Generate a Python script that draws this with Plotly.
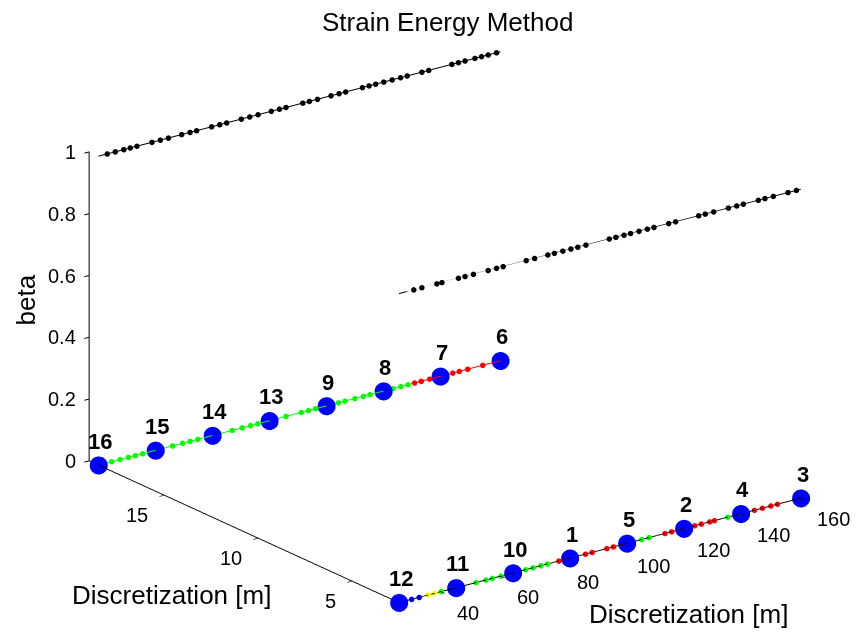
import numpy as np
import plotly.graph_objects as go

# ---------------- data ----------------
node_x = [26, 45, 64, 83, 102, 121, 140, 160]
front_labels = ["12", "11", "10", "1", "5", "2", "4", "3"]
back_labels = ["16", "15", "14", "13", "9", "8", "7", "6"]
front_y = 2.5
back_y = 18.5
front_beta = [0, 0, 0, 0, 0, 0, 0, 0]
back_beta = [0, 0, 0, 0, 0, 0, 0, 0]
top_beta = 1.0

# coloured pieces of the beta=0 lines
front_piece_start = [26, 33.8, 39.4, 77.7, 102, 112.4, 133.4, 140]
front_piece_end = [33.8, 39.4, 77.7, 102, 112.4, 133.4, 140, 160]
front_piece_color = ["#0000FF", "#FFFF00", "#00FF00", "#FF0000", "#00FF00", "#FF0000", "#00FF00", "#FF0000"]
back_piece_start = [26, 130.3]
back_piece_end = [130.3, 160]
back_piece_color = ["#00FF00", "#FF0000"]

# small element nodes on the beta=0 lines
front_dot_x = [30.2, 32.7, 35.7, 37.9, 40.1, 51.7, 55.0, 57.2, 60.0, 68.3, 70.7, 73.3, 75.5,
               79.3, 88.2, 90.4, 95.3, 97.5, 106.9, 109.4, 114.7, 116.9, 124.6, 126.8, 129.6,
               131.2, 135.6, 144.5, 147.2, 150.0, 152.2]
front_dot_color = ["#0000FF"] * 2 + ["#FFFF00"] * 2 + ["#00FF00"] * 9 + ["#FF0000"] * 5 + \
                  ["#00FF00"] * 2 + ["#FF0000"] * 6 + ["#00FF00"] * 1 + ["#FF0000"] * 4
back_dot_x = [30.4, 33.2, 36.0, 38.3, 40.7, 50.7, 54.0, 56.5, 59.1, 70.6, 73.9, 76.7, 79.1,
              88.5, 93.6, 96.0, 98.4, 106.0, 108.2, 111.5, 114.3, 116.5, 124.2, 126.8, 129.2,
              131.4, 133.6, 136.4, 144.1, 146.3, 149.1, 154.1]
back_dot_color = ["#00FF00"] * 25 + ["#FF0000"] * 7

# small element nodes on the beta=1 lines
top_back_dot_x = [28.9, 31.6, 34.4, 36.6, 38.8, 43.8, 46.6, 49.3, 53.7, 56.5, 58.7, 63.7, 66.4,
                  68.7, 73.6, 76.4, 79.2, 83.6, 86.3, 88.5, 94.1, 96.3, 99.0, 103.5, 106.2,
                  108.4, 114.0, 116.2, 118.4, 121.1, 123.9, 126.7, 128.9, 133.8, 136.1, 143.8,
                  146.0, 148.2, 151.5, 153.7, 155.9, 158.7]
top_front_dot_x = [30.9, 33.6, 38.6, 40.3, 45.8, 48.0, 50.8, 55.7, 58.5, 60.7, 68.4, 71.2, 75.6,
                   77.8, 80.6, 83.3, 85.6, 88.3, 96.1, 98.3, 101.0, 103.2, 106.0, 108.8, 111.0,
                   115.9, 118.2, 125.9, 128.1, 130.9, 135.8, 138.6, 140.8, 145.8, 148.0, 150.8,
                   155.7, 158.5]

x_ticks = [40, 60, 80, 100, 120, 140, 160]
y_ticks = [5, 10, 15]
z_ticks = [0, 0.2, 0.4, 0.6, 0.8, 1]
x_range = [26, 160]
y_range = [2.5, 19]
z_range = [0, 1]

FONT = "Liberation Sans, Arial, sans-serif"

fig = go.Figure()

# beta = 1 lines
for yy, dots in [(back_y, top_back_dot_x), (front_y, top_front_dot_x)]:
    fig.add_trace(go.Scatter3d(x=[node_x[0], node_x[-1]], y=[yy, yy], z=[top_beta, top_beta],
                               mode="lines", line=dict(color="black", width=2),
                               showlegend=False, hoverinfo="skip"))
    fig.add_trace(go.Scatter3d(x=dots, y=[yy] * len(dots), z=[top_beta] * len(dots),
                               mode="markers", marker=dict(color="black", size=3.2, line=dict(width=0)),
                               showlegend=False, hoverinfo="skip"))

# coloured beta = 0 lines
for yy, starts, ends, cols in [(front_y, front_piece_start, front_piece_end, front_piece_color),
                               (back_y, back_piece_start, back_piece_end, back_piece_color)]:
    for s, e, c in zip(starts, ends, cols):
        fig.add_trace(go.Scatter3d(x=[s, e], y=[yy, yy], z=[0, 0], mode="lines",
                                   line=dict(color=c, width=2), showlegend=False, hoverinfo="skip"))
for yy, dx, dc in [(front_y, front_dot_x, front_dot_color), (back_y, back_dot_x, back_dot_color)]:
    fig.add_trace(go.Scatter3d(x=dx, y=[yy] * len(dx), z=[0] * len(dx), mode="markers",
                               marker=dict(color=dc, size=3.2, line=dict(width=0)),
                               showlegend=False, hoverinfo="skip"))

# main nodes
for yy, beta in [(front_y, front_beta), (back_y, back_beta)]:
    fig.add_trace(go.Scatter3d(x=node_x, y=[yy] * len(node_x), z=beta, mode="markers",
                               marker=dict(color="#0000FF", size=10.5, line=dict(width=0)),
                               showlegend=False, hoverinfo="skip"))

LABEL_FONT = dict(size=22, color="black", family=FONT)
TICK_FONT = dict(size=20, color="black", family=FONT)
TITLE_FONT = dict(size=26, color="black", family=FONT)

annotations = []
for labels, yy, beta in [(front_labels, front_y, front_beta), (back_labels, back_y, back_beta)]:
    for lab, xx, bb in zip(labels, node_x, beta):
        annotations.append(dict(x=xx, y=yy, z=bb, text="<b>%s</b>" % lab, showarrow=False,
                                yshift=24, xshift=2, font=LABEL_FONT))
# tick labels (drawn flat, as in the original)
for t in z_ticks:
    annotations.append(dict(x=x_range[0], y=y_range[1], z=t, text="%g" % t, showarrow=False,
                            xanchor="right", xshift=-11, yshift=0, font=TICK_FONT))
for t in y_ticks:
    annotations.append(dict(x=x_range[0], y=t, z=0, text="%g" % t, showarrow=False,
                            xanchor="right", xshift=-14, yshift=-20, font=TICK_FONT))
for t in x_ticks:
    annotations.append(dict(x=t, y=y_range[0], z=0, text="%g" % t, showarrow=False,
                            xanchor="left", xshift=14, yshift=-21, font=TICK_FONT))
# axis titles
annotations.append(dict(x=x_range[0], y=y_range[1], z=0.5, text="beta", showarrow=False,
                        textangle=-90, xshift=-63, yshift=7, font=TITLE_FONT))
annotations.append(dict(x=x_range[0], y=10, z=0, text="Discretization [m]", showarrow=False,
                        xshift=-87, yshift=-57, font=TITLE_FONT))
annotations.append(dict(x=100, y=y_range[0], z=0, text="Discretization [m]", showarrow=False,
                        xshift=68, yshift=-69, font=TITLE_FONT))

el = np.radians(20.17)
az = np.radians(232.99)
L = 2.0
eye = dict(x=L * np.cos(el) * np.cos(az), y=L * np.cos(el) * np.sin(az), z=L * np.sin(el))

axis_common = dict(showbackground=False, showgrid=False, zeroline=False, showspikes=False,
                   showline=True, linecolor="black", linewidth=2, ticks="outside", ticklen=6,
                   tickwidth=2, tickcolor="black", showticklabels=False, title=dict(text=""))

fig.update_layout(
    width=856, height=637, margin=dict(l=0, r=0, t=0, b=0),
    paper_bgcolor="white",
    title=dict(text="Strain Energy Method", x=0.523, y=0.965, xanchor="center", yanchor="middle",
               font=TITLE_FONT),
    scene=dict(
        xaxis=dict(range=x_range, tickvals=x_ticks, **axis_common),
        yaxis=dict(range=y_range, tickvals=y_ticks, **axis_common),
        zaxis=dict(range=z_range, tickvals=z_ticks, **axis_common),
        aspectmode="manual", aspectratio=dict(x=1.613, y=1.650, z=1.055),
        camera=dict(eye=eye, up=dict(x=0, y=0, z=1), center=dict(x=0, y=0, z=0),
                    projection=dict(type="orthographic")),
        annotations=annotations,
        domain=dict(x=[0.0395, 1], y=[0, 0.979]),
    ),
)

fig.write_html("out.html")
